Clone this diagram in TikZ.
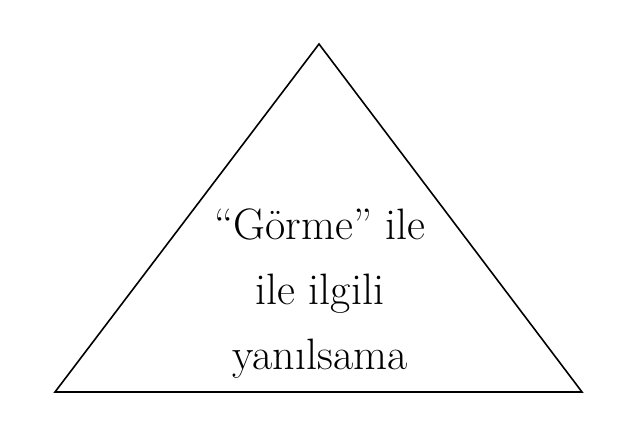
\documentclass[tikz,border=0pt]{standalone}
\usepackage{fontspec}
\begin{document}
\begin{tikzpicture}[x=1pt,y=1pt,
  tri/.style={draw=black,line width=1.6pt,line join=miter},
  lbl/.style={font=\fontsize{44}{52}\selectfont,anchor=base,inner sep=0pt}]
\useasboundingbox (0,0) rectangle (632,423);
\coordinate (apex) at (319,379);
\coordinate (bl) at (55,31);
\coordinate (br) at (582,31);
\draw[tri] (apex) -- (br) -- (bl) -- cycle;
\node[lbl] (t1) at (320,183) {“Görme” ile};
\node[lbl] (t2) at (320,118) {ile ilgili};
\node[lbl] (t3) at (320,53) {yanılsama};
\end{tikzpicture}
\end{document}
